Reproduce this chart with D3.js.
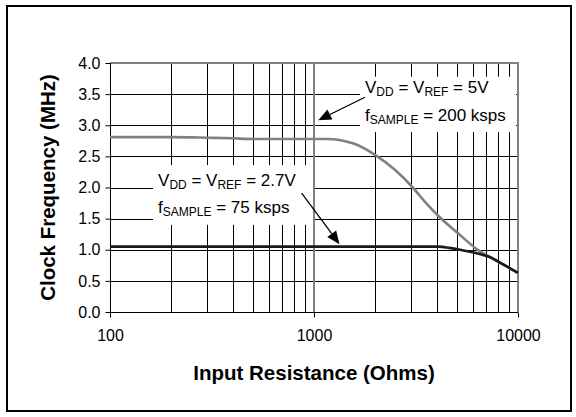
<!DOCTYPE html>
<html><head><meta charset="utf-8">
<script src="https://cdn.jsdelivr.net/npm/d3@7"></script>
<style>body{margin:0;background:#fff}svg{display:block}text{font-family:Arial,"Liberation Sans",sans-serif}</style>
</head><body>
<svg id="c" width="576" height="417"></svg>
<script>
// ---- data ----
const resistance5V = [100, 200, 300, 400, 500, 1000, 1150, 1550, 2000, 2500, 3050, 3500, 4050, 5100, 6400, 7300, 8500, 10000];
const clock5V      = [2.81, 2.81, 2.80, 2.79, 2.78, 2.78, 2.78, 2.71, 2.52, 2.28, 2.00, 1.77, 1.55, 1.26, 0.99, 0.88, 0.76, 0.63];
const resistance27V = [100, 1000, 4100, 4600, 5200, 6500, 7300, 8500, 10000];
const clock27V      = [1.05, 1.05, 1.05, 1.03, 1.00, 0.93, 0.88, 0.76, 0.63];
const yTicks = [0, 0.5, 1, 1.5, 2, 2.5, 3, 3.5, 4];
const xMajor = [100, 1000, 10000];
const xMinor = [200,300,400,500,600,700,800,900,2000,3000,4000,5000,6000,7000,8000,9000];
const xTitle = "Input Resistance (Ohms)";
const yTitle = "Clock Frequency (MHz)";
const labels = [
  {box:[1680, 9780, 3.78, 2.89], x:1778, lines:[
    [["V",0],["DD",1],[" = V",0],["REF",1],[" = 5V",0]],
    [["f",0],["SAMPLE",1],[" = 200 ksps",0]]], y:[3.52, 3.07],
   arrow:[[1778, 3.45],[1049, 3.08]]},
  {box:[162.5, 989, 2.36, 1.40], x:172, lines:[
    [["V",0],["DD",1],[" = V",0],["REF",1],[" = 2.7V",0]],
    [["f",0],["SAMPLE",1],[" = 75 ksps",0]]], y:[2.02, 1.59],
   arrow:[[870, 1.91],[1333, 1.09]]}
];

const svg = d3.select("#c");
const x = d3.scaleLog().domain([100, 10000]).range([110, 518]);
const y = d3.scaleLinear().domain([0, 4]).range([312, 63]);

// outer frame
svg.append("rect").attr("x",7).attr("y",6).attr("width",564).attr("height",405)
  .attr("fill","none").attr("stroke","#000").attr("stroke-width",2);

// horizontal gridlines
svg.append("g").selectAll("line").data(yTicks.filter(d=>d>0 && d<4)).join("line")
  .attr("x1",x(100)).attr("x2",x(10000)).attr("y1",d=>Math.round(y(d))+0.5).attr("y2",d=>Math.round(y(d))+0.5)
  .attr("stroke","#000").attr("stroke-width",1);
// vertical minor gridlines
svg.append("g").selectAll("line").data(xMinor).join("line")
  .attr("x1",d=>Math.round(x(d))+0.5).attr("x2",d=>Math.round(x(d))+0.5).attr("y1",y(4)).attr("y2",y(0))
  .attr("stroke","#000").attr("stroke-width",1);
// vertical major gridline 1000
svg.append("line").attr("x1",x(1000)).attr("x2",x(1000)).attr("y1",y(4)).attr("y2",y(0))
  .attr("stroke","#808080").attr("stroke-width",2);
// plot border top/right
svg.append("path").attr("d",`M${x(100)},${y(4)}H${x(10000)}V${y(0)}`)
  .attr("fill","none").attr("stroke","#808080").attr("stroke-width",2);

// annotation boxes (white)
labels.forEach(l=>{
  svg.append("rect").attr("x",x(l.box[0])).attr("y",y(l.box[2]))
    .attr("width",x(l.box[1])-x(l.box[0])).attr("height",y(l.box[3])-y(l.box[2]))
    .attr("fill","#fff");
});

// axes
const yAxis = d3.axisLeft(y).tickValues(yTicks).tickFormat(d3.format(".1f")).tickSize(5).tickPadding(5);
const gy = svg.append("g").attr("transform",`translate(${x(100)+0.5},0)`).call(yAxis);
gy.selectAll("text").attr("font-size",16).attr("fill","#000").attr("font-family","Arial, 'Liberation Sans', sans-serif");
gy.selectAll("line,path").attr("stroke","#000");
gy.select(".domain").attr("d",`M0,${y(0)}V${y(4)}`);

const xAxis = d3.axisBottom(x).tickValues(xMajor).tickFormat(d3.format("d")).tickSize(5).tickPadding(12);
const gx = svg.append("g").attr("transform",`translate(0,${y(0)+0.5})`).call(xAxis);
gx.selectAll("text").attr("font-size",16).attr("fill","#000").attr("font-family","Arial, 'Liberation Sans', sans-serif");
gx.selectAll("line,path").attr("stroke","#000");
gx.select(".domain").attr("d",`M${x(100)},0H${x(10000)}`);

// series
const line = d3.line().x(d=>x(d[0])).y(d=>y(d[1])).curve(d3.curveMonotoneX);
svg.append("path").datum(d3.zip(resistance5V, clock5V)).attr("d",line)
  .attr("fill","none").attr("stroke","#808080").attr("stroke-width",2.6);
svg.append("path").datum(d3.zip(resistance27V, clock27V)).attr("d",line)
  .attr("fill","none").attr("stroke","#1a1a1a").attr("stroke-width",2.6);

// annotation text & arrows
labels.forEach(l=>{
  l.lines.forEach((parts,i)=>{
    const t = svg.append("text").attr("x",x(l.x)).attr("y",y(l.y[i])).attr("font-size",17).attr("fill","#000");
    parts.forEach(p=>{
      const ts = t.append("tspan").text(p[0]);
      if(p[1]) ts.attr("font-size",12).attr("dy",3);
      else if(t.selectAll("tspan").size()>1) ts.attr("dy",-3);
    });
  });
  const [s,e] = l.arrow;
  const x1=x(s[0]), y1=y(s[1]), x2=x(e[0]), y2=y(e[1]);
  const ang = Math.atan2(y2-y1, x2-x1), L=13, W=5.5;
  const bx = x2 - L*Math.cos(ang), by = y2 - L*Math.sin(ang);
  svg.append("line").attr("x1",x1).attr("y1",y1).attr("x2",bx).attr("y2",by).attr("stroke","#000").attr("stroke-width",1.3);
  svg.append("path").attr("d",`M${x2},${y2}L${bx - W*Math.sin(ang)},${by + W*Math.cos(ang)}L${bx + W*Math.sin(ang)},${by - W*Math.cos(ang)}Z`).attr("fill","#000");
});

// titles
svg.append("text").attr("x",(x(100)+x(10000))/2).attr("y",380).attr("text-anchor","middle")
  .attr("font-size",20.5).attr("font-weight","bold").text(xTitle);
svg.append("text").attr("transform",`translate(55,${(y(0)+y(4))/2}) rotate(-90)`).attr("text-anchor","middle")
  .attr("font-size",20.5).attr("font-weight","bold").text(yTitle);
</script>
</body></html>
